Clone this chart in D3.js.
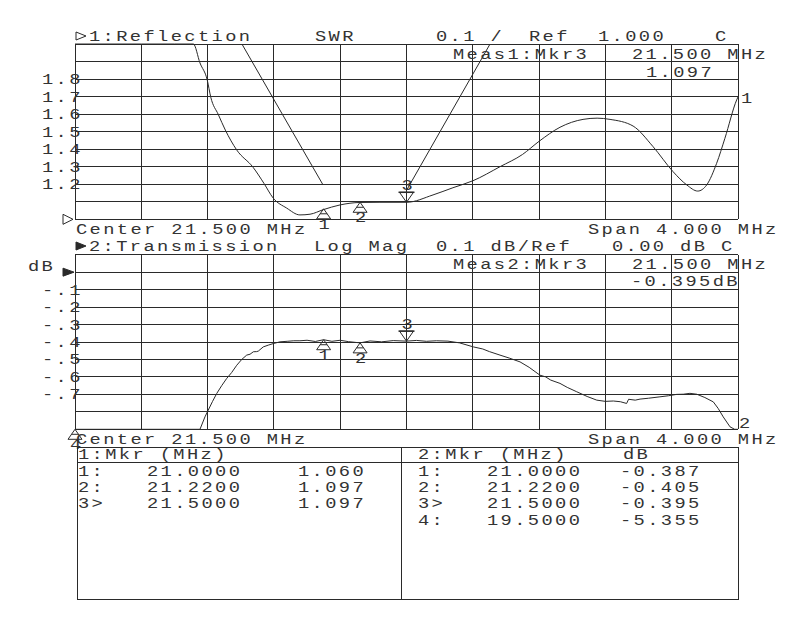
<!DOCTYPE html>
<html>
<head>
<meta charset="utf-8">
<script src="https://cdn.jsdelivr.net/npm/d3@7"></script>
<style>
  body { margin: 0; background: #fff; }
</style>
</head>
<body>
<script>
// channel 1: reflection (SWR) trace
const refFreq = [19.5, 19.9, 20.1, 20.214, 20.254, 20.298, 20.319, 20.365, 20.407, 20.476, 20.574, 20.64, 20.695,
  20.777, 20.857, 20.918, 20.998, 21.099, 21.219, 21.34, 21.5, 21.66, 21.78, 21.901, 22.064, 22.2, 22.3, 22.426,
  22.565, 22.65, 22.728, 22.867, 22.988, 23.108, 23.191, 23.257, 23.311, 23.371, 23.421, 23.492, 23.5];
const refSwr = [2.6, 2.35, 2.12, 2.0, 1.892, 1.794, 1.697, 1.597, 1.509, 1.395, 1.297, 1.205, 1.122,
  1.064, 1.025, 1.029, 1.055, 1.082, 1.096, 1.097, 1.097, 1.139, 1.18, 1.22, 1.30, 1.37, 1.445, 1.525,
  1.570, 1.577, 1.570, 1.532, 1.414, 1.272, 1.196, 1.161, 1.196, 1.319, 1.462, 1.681, 1.698];

// two straight segments drawn on the reflection graticule
const guideFreq = [[20.507, 20.996], [21.5, 22.004]];
const guideSwr = [[2.0, 1.197], [1.165, 2.0]];

// channel 2: transmission (log mag) trace
const transFreq = [19.5, 19.9, 20.1, 20.2, 20.254, 20.284, 20.304, 20.33, 20.355, 20.385, 20.415, 20.445, 20.476,
  20.506, 20.536, 20.556, 20.576, 20.596, 20.606, 20.636, 20.666, 20.696, 20.737, 20.78, 20.82, 20.857, 20.9,
  20.95, 21.0, 21.05, 21.1, 21.15, 21.22, 21.28, 21.35, 21.42, 21.5, 21.56, 21.62, 21.68, 21.75, 21.82, 21.903,
  21.96, 22.0, 22.064, 22.12, 22.185, 22.24, 22.305, 22.34, 22.37, 22.426, 22.47, 22.527, 22.59, 22.648, 22.7,
  22.748, 22.79, 22.828, 22.84, 22.88, 22.909, 22.96, 23.029, 23.08, 23.13, 23.17, 23.21, 23.251, 23.3, 23.351,
  23.38, 23.411, 23.452, 23.48, 23.5];
const transDb = [-5.355, -3.2, -1.7, -1.15, -0.90, -0.829, -0.790, -0.74, -0.695, -0.65, -0.609, -0.575, -0.533,
  -0.500, -0.475, -0.470, -0.456, -0.455, -0.452, -0.428, -0.418, -0.409, -0.399, -0.396, -0.393, -0.393, -0.390,
  -0.397, -0.387, -0.396, -0.390, -0.398, -0.405, -0.394, -0.399, -0.392, -0.395, -0.391, -0.396, -0.393,
  -0.395, -0.405, -0.428, -0.440, -0.455, -0.475, -0.492, -0.514, -0.545, -0.590, -0.600, -0.618, -0.637,
  -0.660, -0.685, -0.712, -0.733, -0.740, -0.738, -0.742, -0.752, -0.728, -0.733, -0.727, -0.722, -0.714,
  -0.708, -0.700, -0.699, -0.694, -0.699, -0.718, -0.743, -0.780, -0.829, -0.886, -0.905, -0.91];

// markers
const mkr1Names = ["1", "2", "3"];
const mkr1Freq = [21.0, 21.22, 21.5];
const mkr1Swr = [1.060, 1.097, 1.097];
const mkr2Names = ["1", "2", "3", "4"];
const mkr2Freq = [21.0, 21.22, 21.5, 19.5];
const mkr2Db = [-0.387, -0.405, -0.395, -5.355];
const activeMkr = 3;

// tick labels
const swrTicks = [1.2, 1.3, 1.4, 1.5, 1.6, 1.7, 1.8];
const dbTicks = [-0.1, -0.2, -0.3, -0.4, -0.5, -0.6, -0.7];
const dbTickLabels = ["-.1", "-.2", "-.3", "-.4", "-.5", "-.6", "-.7"];

(function autoexecute() {
  var width = 800, height = 624;
  var plotLeft = 75, plotRight = 738;

  // monospace screen font, stretched a bit like the analyzer's
  const FS = 15, SX = 1.25, LS = 1.9;
  const ink = "#2a2a2a";

  var svg = d3.select("body").append("svg")
    .attr("width", width)
    .attr("height", height);

  function txt(x, y, s, anchor) {
    return svg.append("text")
      .attr("transform", `scale(${SX},1)`)
      .attr("x", x / SX)
      .attr("y", y)
      .attr("font-family", "'Liberation Mono', monospace")
      .attr("font-size", FS)
      .attr("letter-spacing", LS)
      .attr("fill", "#333")
      .attr("text-anchor", anchor || "start")
      .text(s);
  }

  const xScale = d3.scaleLinear().domain([19.5, 23.5]).range([plotLeft, plotRight]);
  const ySwr = d3.scaleLinear().domain([1.0, 2.0]).range([219.3, 44]).clamp(true);
  const yDb = d3.scaleLinear().domain([-0.9, 0.1]).range([429.3, 254.7]).clamp(true);

  // graticule: 10 x 10 divisions
  function drawGrid(yScale, yTicks) {
    const g = svg.append("g")
      .attr("stroke", ink)
      .attr("stroke-width", 1)
      .attr("shape-rendering", "crispEdges");
    g.selectAll("line.v")
      .data(d3.range(11).map(i => 19.5 + i * 0.4))
      .join("line")
      .attr("class", "v")
      .attr("x1", d => xScale(d)).attr("x2", d => xScale(d))
      .attr("y1", yScale.range()[1]).attr("y2", yScale.range()[0]);
    g.selectAll("line.h")
      .data(yTicks)
      .join("line")
      .attr("class", "h")
      .attr("x1", plotLeft).attr("x2", plotRight)
      .attr("y1", d => yScale(d)).attr("y2", d => yScale(d));
  }
  drawGrid(ySwr, d3.range(11).map(i => 1.0 + i * 0.1));
  drawGrid(yDb, d3.range(11).map(i => -0.9 + i * 0.1));

  // traces (SWR is smooth, transmission stays jagged)
  const line1 = d3.line()
    .curve(d3.curveMonotoneX)
    .x((d, i) => xScale(refFreq[i]))
    .y((d, i) => ySwr(refSwr[i]));
  svg.append("path")
    .attr("d", line1(refFreq))
    .attr("fill", "none")
    .attr("stroke", ink)
    .attr("stroke-width", 1);

  guideFreq.forEach((fs, k) => {
    svg.append("path")
      .attr("d", d3.line()(fs.map((f, i) => [xScale(f), ySwr(guideSwr[k][i])])))
      .attr("fill", "none")
      .attr("stroke", ink)
      .attr("stroke-width", 1);
  });

  const line2 = d3.line().x((d, i) => xScale(transFreq[i])).y((d, i) => yDb(transDb[i]));
  svg.append("path")
    .attr("d", line2(transFreq))
    .attr("fill", "none")
    .attr("stroke", ink)
    .attr("stroke-width", 1);

  // marker triangles: up ones sit under the trace, the active one points down from above
  function drawMarkers(names, freqs, vals, yScale) {
    names.forEach((n, i) => {
      const mx = xScale(freqs[i]), my = yScale(vals[i]);
      const active = +n === activeMkr;
      const p = active
        ? [[mx, my], [mx - 7, my - 10], [mx + 7, my - 10]]
        : [[mx, my], [mx - 7, my + 10], [mx + 7, my + 10]];
      svg.append("path")
        .attr("d", d3.line()(p) + "Z")
        .attr("fill", "none")
        .attr("stroke", ink)
        .attr("stroke-width", 1);
      if (active) {
        svg.append("line")
          .attr("x1", mx - 8).attr("x2", mx + 8)
          .attr("y1", my - 10).attr("y2", my - 10)
          .attr("stroke", ink).attr("stroke-width", 1.5);
        txt(mx - 5, my - 12, n);
      } else {
        svg.append("line")
          .attr("x1", mx - 3.5).attr("x2", mx + 3.5)
          .attr("y1", my + 5).attr("y2", my + 5)
          .attr("stroke", ink);
        txt(mx - 5, my + 20, n);
      }
    });
  }
  drawMarkers(mkr1Names, mkr1Freq, mkr1Swr, ySwr);
  drawMarkers(mkr2Names, mkr2Freq, mkr2Db, yDb);

  // trace end labels
  txt(741, ySwr(refSwr[refSwr.length - 1]) + 6, "1");
  txt(739, yDb(transDb[transDb.length - 1]) - 1, "2");

  // y labels
  swrTicks.forEach(v => txt(42, ySwr(v) + 5, v.toFixed(1)));
  dbTicks.forEach((v, i) => txt(42, yDb(v) + 5, dbTickLabels[i]));
  txt(28, 271, "dB");

  // reference position arrows
  svg.append("path")
    .attr("d", d3.line()([[63, ySwr(1.0) - 5], [73, ySwr(1.0)], [63, ySwr(1.0) + 5]]) + "Z")
    .attr("fill", "none").attr("stroke", ink);
  svg.append("path")
    .attr("d", d3.line()([[63, yDb(0) - 4], [74, yDb(0)], [63, yDb(0) + 4]]) + "Z")
    .attr("fill", ink).attr("stroke", ink);
  // channel header arrows
  svg.append("path")
    .attr("d", d3.line()([[76, 32], [86, 36], [76, 40]]) + "Z")
    .attr("fill", "none").attr("stroke", ink);
  svg.append("path")
    .attr("d", d3.line()([[76, 242], [86, 246], [76, 250]]) + "Z")
    .attr("fill", ink).attr("stroke", ink);

  // channel 1 annotation
  txt(89, 41, "1:Reflection");
  txt(315, 41, "SWR");
  txt(436, 41, "0.1 /");
  txt(529, 41, "Ref");
  txt(598, 41, "1.000");
  txt(715, 41, "C");
  txt(453, 59, "Meas1:Mkr3");
  txt(632, 59, "21.500 MHz");
  txt(646, 77, mkr1Swr[activeMkr - 1].toFixed(3));
  txt(76, 234, "Center 21.500 MHz");
  txt(588, 234, "Span 4.000 MHz");

  // channel 2 annotation
  txt(89, 251, "2:Transmission");
  txt(314, 251, "Log Mag");
  txt(436, 251, "0.1 dB/Ref");
  txt(612, 251, "0.00 dB C");
  txt(453, 269, "Meas2:Mkr3");
  txt(632, 269, "21.500 MHz");
  txt(631, 286, mkr2Db[activeMkr - 1].toFixed(3) + "dB");
  txt(76, 444, "Center 21.500 MHz");
  txt(588, 444, "Span 4.000 MHz");

  // marker table
  const tbl = svg.append("g")
    .attr("stroke", ink)
    .attr("fill", "none")
    .attr("shape-rendering", "crispEdges");
  tbl.append("rect").attr("x", 77).attr("y", 447).attr("width", 661).attr("height", 152);
  tbl.append("line").attr("x1", 77).attr("x2", 738).attr("y1", 462).attr("y2", 462);
  tbl.append("line").attr("x1", 401).attr("x2", 401).attr("y1", 447).attr("y2", 599);

  txt(78, 459, "1:Mkr (MHz)");
  mkr1Names.forEach((n, i) => {
    const y = 476 + i * 16.2;
    txt(78, y, n + (+n === activeMkr ? ">" : ":"));
    txt(147, y, mkr1Freq[i].toFixed(4));
    txt(298, y, mkr1Swr[i].toFixed(3));
  });
  txt(418, 459, "2:Mkr (MHz)");
  txt(623, 459, "dB");
  mkr2Names.forEach((n, i) => {
    const y = 476 + i * 16.2;
    txt(418, y, n + (+n === activeMkr ? ">" : ":"));
    txt(487, y, mkr2Freq[i].toFixed(4));
    txt(620, y, mkr2Db[i].toFixed(3));
  });
})();
</script>
</body>
</html>
